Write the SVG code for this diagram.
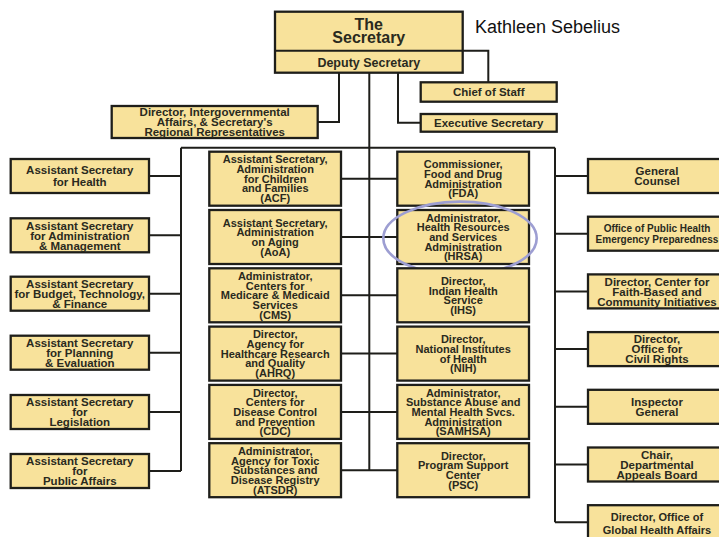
<svg xmlns="http://www.w3.org/2000/svg" width="719" height="537" viewBox="0 0 719 537">
<style>
.bx{fill:#F8E29B;stroke:#1e1e1a;stroke-width:2.3}
.ln{fill:none;stroke:#1e1e1a;stroke-width:2}
text{font-family:"Liberation Sans",Arial,Helvetica,sans-serif;font-weight:bold;fill:#2a2a1e;text-anchor:middle}
.m{font-size:11px}
.s{font-size:11.5px}
.r{font-size:10px}
</style>
<rect width="719" height="537" fill="#ffffff"/>
<g id="connectors">
<path class="ln" d="M462.7,50.7H488.3V82.3"/>
<path class="ln" d="M398,72.7V122.8H420.7"/>
<path class="ln" d="M339,72.7V122H317.7"/>
<path class="ln" d="M369.3,72.7V470.2"/>
<path class="ln" d="M181,147.7H555"/>
<path class="ln" d="M181,147.7V471"/>
<path class="ln" d="M555,147.7V522.2"/>
<path class="ln" d="M149,176H181M149,235.3H181M149,293.7H181M149,352.7H181M149,412H181M149,471H181"/>
<path class="ln" d="M555,176H588M555,233.7H588M555,291.4H588M555,349.1H588M555,406.8H588M555,464.5H588M555,522.2H588"/>
<path class="ln" d="M341,178.7H397.3M341,237H397.3M341,295.3H397.3M341,353.6H397.3M341,411.9H397.3M341,470.2H397.3"/>
</g>
<g id="secretary">
<rect class="bx" x="275" y="11.7" width="187.7" height="61"/>
<line class="ln" x1="275" y1="50.7" x2="462.7" y2="50.7"/>
<text style="font-size:16px"><tspan x="368.8" y="29.5">The</tspan><tspan x="368.8" y="43">Secretary</tspan></text>
<text x="368.8" y="66.5" style="font-size:12.5px">Deputy Secretary</text>
</g>
<g id="name"><text x="475" y="33.3" style="font-size:18px;font-weight:normal;text-anchor:start;fill:#111">Kathleen Sebelius</text></g>
<g id="chief"><rect class="bx" x="420.7" y="82.3" width="136" height="19.4"/><text class="s" x="488.7" y="96">Chief of Staff</text></g>
<g id="exec"><rect class="bx" x="420.7" y="114" width="136" height="17.7"/><text class="s" x="488.7" y="127">Executive Secretary</text></g>
<g id="intergov"><rect class="bx" x="111.7" y="106" width="206" height="32"/>
<text class="s"><tspan x="214.7" y="116.4">Director, Intergovernmental</tspan><tspan x="214.7" y="126.2">Affairs, &amp; Secretary's</tspan><tspan x="214.7" y="136">Regional Representatives</tspan></text></g>

<g id="ash"><rect class="bx" x="10.7" y="159" width="138.3" height="34"/><text class="s"><tspan x="79.8" y="174.4">Assistant Secretary</tspan><tspan x="79.8" y="186.1">for Health</tspan></text></g>
<g id="asam"><rect class="bx" x="10.7" y="218.3" width="138.3" height="34"/><text class="s"><tspan x="79.8" y="229.5">Assistant Secretary</tspan><tspan x="79.8" y="239.5">for Administration</tspan><tspan x="79.8" y="249.5">&amp; Management</tspan></text></g>
<g id="asbtf"><rect class="bx" x="10.7" y="276.7" width="138.3" height="34"/><text class="s"><tspan x="79.8" y="287.9">Assistant Secretary</tspan><tspan x="79.8" y="297.9">for Budget, Technology,</tspan><tspan x="79.8" y="307.9">&amp; Finance</tspan></text></g>
<g id="aspe"><rect class="bx" x="10.7" y="335.7" width="138.3" height="34"/><text class="s"><tspan x="79.8" y="346.9">Assistant Secretary</tspan><tspan x="79.8" y="356.9">for Planning</tspan><tspan x="79.8" y="366.9">&amp; Evaluation</tspan></text></g>
<g id="asl"><rect class="bx" x="10.7" y="395" width="138.3" height="34"/><text class="s"><tspan x="79.8" y="406.2">Assistant Secretary</tspan><tspan x="79.8" y="416.2">for</tspan><tspan x="79.8" y="426.2">Legislation</tspan></text></g>
<g id="aspa"><rect class="bx" x="10.7" y="454" width="138.3" height="34"/><text class="s"><tspan x="79.8" y="465.2">Assistant Secretary</tspan><tspan x="79.8" y="475.2">for</tspan><tspan x="79.8" y="485.2">Public Affairs</tspan></text></g>

<g id="acf"><rect class="bx" x="209.3" y="151.7" width="131.7" height="54"/><text class="m"><tspan x="275.2" y="163.3">Assistant Secretary,</tspan><tspan x="275.2" y="173">Administration</tspan><tspan x="275.2" y="182.7">for Children</tspan><tspan x="275.2" y="192.4">and Families</tspan><tspan x="275.2" y="202.1">(ACF)</tspan></text></g>
<g id="aoa"><rect class="bx" x="209.3" y="210" width="131.7" height="54"/><text class="m"><tspan x="275.2" y="226.5">Assistant Secretary,</tspan><tspan x="275.2" y="236.2">Administration</tspan><tspan x="275.2" y="245.9">on Aging</tspan><tspan x="275.2" y="255.6">(AoA)</tspan></text></g>
<g id="cms"><rect class="bx" x="209.3" y="268.3" width="131.7" height="54"/><text class="m"><tspan x="275.2" y="279.9">Administrator,</tspan><tspan x="275.2" y="289.6">Centers for</tspan><tspan x="275.2" y="299.3">Medicare &amp; Medicaid</tspan><tspan x="275.2" y="309">Services</tspan><tspan x="275.2" y="318.7">(CMS)</tspan></text></g>
<g id="ahrq"><rect class="bx" x="209.3" y="326.6" width="131.7" height="54"/><text class="m"><tspan x="275.2" y="338.2">Director,</tspan><tspan x="275.2" y="347.9">Agency for</tspan><tspan x="275.2" y="357.6">Healthcare Research</tspan><tspan x="275.2" y="367.3">and Quality</tspan><tspan x="275.2" y="377">(AHRQ)</tspan></text></g>
<g id="cdc"><rect class="bx" x="209.3" y="384.9" width="131.7" height="54"/><text class="m"><tspan x="275.2" y="396.5">Director,</tspan><tspan x="275.2" y="406.2">Centers for</tspan><tspan x="275.2" y="415.9">Disease Control</tspan><tspan x="275.2" y="425.6">and Prevention</tspan><tspan x="275.2" y="435.3">(CDC)</tspan></text></g>
<g id="atsdr"><rect class="bx" x="209.3" y="443.2" width="131.7" height="54"/><text class="m"><tspan x="275.2" y="454.8">Administrator,</tspan><tspan x="275.2" y="464.5">Agency for Toxic</tspan><tspan x="275.2" y="474.2">Substances and</tspan><tspan x="275.2" y="483.9">Disease Registry</tspan><tspan x="275.2" y="493.6">(ATSDR)</tspan></text></g>

<g id="fda"><rect class="bx" x="397.3" y="151.7" width="131.7" height="54"/><text class="m"><tspan x="463.2" y="168.2">Commissioner,</tspan><tspan x="463.2" y="177.9">Food and Drug</tspan><tspan x="463.2" y="187.6">Administration</tspan><tspan x="463.2" y="197.3">(FDA)</tspan></text></g>
<g id="hrsa"><rect class="bx" x="397.3" y="210" width="131.7" height="54"/><text class="m"><tspan x="463.2" y="221.6">Administrator,</tspan><tspan x="463.2" y="231.3">Health Resources</tspan><tspan x="463.2" y="241">and Services</tspan><tspan x="463.2" y="250.7">Administration</tspan><tspan x="463.2" y="260.4">(HRSA)</tspan></text>
<ellipse cx="460" cy="238.3" rx="76.7" ry="36.7" fill="none" stroke="#9d9ed2" stroke-width="2.6"/></g>
<g id="ihs"><rect class="bx" x="397.3" y="268.3" width="131.7" height="54"/><text class="m"><tspan x="463.2" y="284.8">Director,</tspan><tspan x="463.2" y="294.5">Indian Health</tspan><tspan x="463.2" y="304.2">Service</tspan><tspan x="463.2" y="313.9">(IHS)</tspan></text></g>
<g id="nih"><rect class="bx" x="397.3" y="326.6" width="131.7" height="54"/><text class="m"><tspan x="463.2" y="343.1">Director,</tspan><tspan x="463.2" y="352.8">National Institutes</tspan><tspan x="463.2" y="362.5">of Health</tspan><tspan x="463.2" y="372.2">(NIH)</tspan></text></g>
<g id="samhsa"><rect class="bx" x="397.3" y="384.9" width="131.7" height="54"/><text class="m"><tspan x="463.2" y="396.5">Administrator,</tspan><tspan x="463.2" y="406.2">Substance Abuse and</tspan><tspan x="463.2" y="415.9">Mental Health Svcs.</tspan><tspan x="463.2" y="425.6">Administration</tspan><tspan x="463.2" y="435.3">(SAMHSA)</tspan></text></g>
<g id="psc"><rect class="bx" x="397.3" y="443.2" width="131.7" height="54"/><text class="m"><tspan x="463.2" y="459.7">Director,</tspan><tspan x="463.2" y="469.4">Program Support</tspan><tspan x="463.2" y="479.1">Center</tspan><tspan x="463.2" y="488.8">(PSC)</tspan></text></g>

<g id="gc"><rect class="bx" x="588" y="159" width="140" height="34"/><text class="s"><tspan x="657" y="175.2">General</tspan><tspan x="657" y="185.2">Counsel</tspan></text></g>
<g id="ophep"><rect class="bx" x="588" y="216.7" width="140" height="34"/><text class="r"><tspan x="657" y="231.8">Office of Public Health</tspan><tspan x="657" y="242.8">Emergency Preparedness</tspan></text></g>
<g id="fbci"><rect class="bx" x="588" y="274.4" width="140" height="34"/><text class="s"><tspan x="657" y="285.6">Director, Center for</tspan><tspan x="657" y="295.6">Faith-Based and</tspan><tspan x="657" y="305.6">Community Initiatives</tspan></text></g>
<g id="ocr"><rect class="bx" x="588" y="332.1" width="140" height="34"/><text class="s"><tspan x="657" y="343.3">Director,</tspan><tspan x="657" y="353.3">Office for</tspan><tspan x="657" y="363.3">Civil Rights</tspan></text></g>
<g id="ig"><rect class="bx" x="588" y="389.8" width="140" height="34"/><text class="s"><tspan x="657" y="406">Inspector</tspan><tspan x="657" y="416">General</tspan></text></g>
<g id="dab"><rect class="bx" x="588" y="447.5" width="140" height="34"/><text class="s"><tspan x="657" y="458.7">Chair,</tspan><tspan x="657" y="468.7">Departmental</tspan><tspan x="657" y="478.7">Appeals Board</tspan></text></g>
<g id="ogha"><rect class="bx" x="588" y="505.2" width="140" height="34"/><text class="m"><tspan x="657" y="521">Director, Office of</tspan><tspan x="657" y="534">Global Health Affairs</tspan></text></g>
</svg>
